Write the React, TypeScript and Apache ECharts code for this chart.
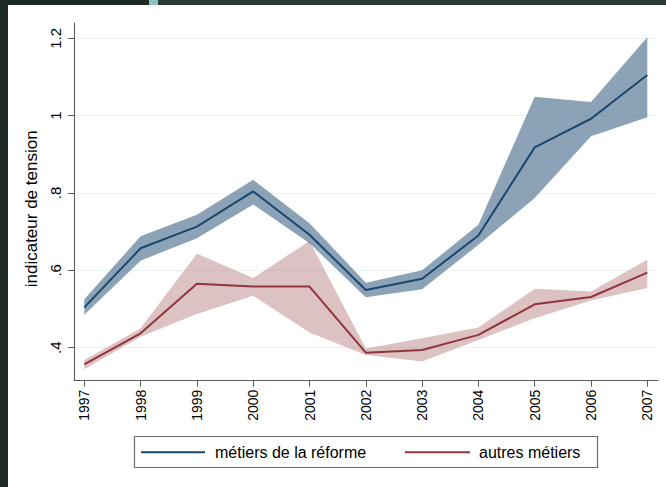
import React, { useEffect, useRef } from "react";
import * as echarts from "echarts";

const years = [1997, 1998, 1999, 2000, 2001, 2002, 2003, 2004, 2005, 2006, 2007];
const reformeMean = [0.504, 0.657, 0.713, 0.804, 0.692, 0.549, 0.578, 0.69, 0.918, 0.992, 1.105];
const reformeUpper = [0.525, 0.688, 0.744, 0.834, 0.722, 0.568, 0.6, 0.718, 1.049, 1.035, 1.203];
const reformeLower = [0.485, 0.625, 0.683, 0.77, 0.67, 0.53, 0.551, 0.666, 0.787, 0.947, 0.996];
const autresMean = [0.357, 0.437, 0.565, 0.558, 0.558, 0.387, 0.394, 0.433, 0.512, 0.531, 0.594];
const autresUpper = [0.368, 0.45, 0.643, 0.58, 0.676, 0.398, 0.424, 0.452, 0.552, 0.545, 0.627];
const autresLower = [0.344, 0.428, 0.487, 0.534, 0.439, 0.381, 0.364, 0.42, 0.476, 0.522, 0.554];
const yTickValues = [0.4, 0.6, 0.8, 1.0, 1.2];
const yTickLabels = [".4", ".6", ".8", "1", "1.2"];
const seriesNames = ["métiers de la réforme", "autres métiers"];
const yAxisTitle = "indicateur de tension";

const NAVY = "#1a476f";
const MAROON = "#90353b";
const FONT = "'Liberation Sans', Arial, sans-serif";

function bandSeries(name: string, lower: number[], upper: number[], color: string, opacity: number) {
  const data = years.map((y, i) => [y, lower[i], upper[i]]);
  return {
    name,
    type: "custom",
    silent: true,
    data,
    encode: { x: 0, y: [1, 2] },
    renderItem: (params: any, api: any) => {
      if (params.dataIndex !== 0) return null;
      const top = data.map((d) => api.coord([d[0], d[2]]));
      const bottom = data.map((d) => api.coord([d[0], d[1]])).reverse();
      return {
        type: "polygon",
        shape: { points: top.concat(bottom) },
        style: { fill: color, opacity },
      };
    },
  };
}

export default function App() {
  const ref = useRef<HTMLDivElement>(null);

  useEffect(() => {
    if (!ref.current) return;
    const chart = echarts.init(ref.current, undefined, { renderer: "svg" });
    const pairs = (vals: number[]) => years.map((y, i) => [y, vals[i]]);

    chart.setOption({
      animation: false,
      backgroundColor: "#ffffff",
      textStyle: { fontFamily: FONT },
      grid: { left: 66, right: 8, top: 18, bottom: 106.3, containLabel: false },
      xAxis: {
        type: "value",
        min: 1996.817,
        max: 2007.19,
        axisLine: { show: true, lineStyle: { color: "#5a5a5a", width: 1 } },
        axisTick: { show: true, length: 6, customValues: years, lineStyle: { color: "#5a5a5a" } },
        axisLabel: {
          customValues: years,
          rotate: 90,
          margin: 9,
          fontSize: 14,
          color: "#000",
          fontFamily: FONT,
          formatter: (v: number) => String(Math.round(v)),
        },
        splitLine: { show: false },
      },
      yAxis: {
        type: "value",
        min: 0.3145,
        max: 1.2396,
        name: yAxisTitle,
        nameLocation: "middle",
        nameGap: 32,
        nameRotate: 90,
        nameTextStyle: { fontSize: 17, color: "#000", fontFamily: FONT, padding: [0, 14, 0, 0] },
        axisLine: { show: true, lineStyle: { color: "#5a5a5a", width: 1 } },
        axisTick: { show: true, length: 6, customValues: yTickValues, lineStyle: { color: "#5a5a5a" } },
        axisLabel: {
          customValues: yTickValues,
          rotate: 90,
          margin: 11,
          fontSize: 15,
          color: "#000",
          fontFamily: FONT,
          formatter: (v: number) => {
            const i = yTickValues.findIndex((t) => Math.abs(t - v) < 1e-6);
            return i >= 0 ? yTickLabels[i] : "";
          },
        },
        splitLine: { show: true, lineStyle: { color: "#eaf2f3", width: 1 } },
      },
      series: [
        bandSeries("reforme-band", reformeLower, reformeUpper, NAVY, 0.5),
        bandSeries("autres-band", autresLower, autresUpper, MAROON, 0.3),
        {
          name: seriesNames[0],
          type: "line",
          data: pairs(reformeMean),
          symbol: "none",
          lineStyle: { color: NAVY, width: 2 },
          z: 3,
        },
        {
          name: seriesNames[1],
          type: "line",
          data: pairs(autresMean),
          symbol: "none",
          lineStyle: { color: MAROON, width: 2 },
          z: 3,
        },
      ],
      graphic: [
        {
          type: "rect",
          shape: { x: 126.5, y: 431.5, width: 463, height: 31 },
          style: { fill: "#fff", stroke: "#6e6e6e", lineWidth: 1.2 },
        },
        {
          type: "line",
          shape: { x1: 133, y1: 447.3, x2: 197, y2: 447.3 },
          style: { stroke: NAVY, lineWidth: 2 },
        },
        {
          type: "text",
          x: 207,
          y: 447.3,
          style: { text: seriesNames[0], fill: "#000", font: `16px ${FONT}`, verticalAlign: "middle", align: "left" },
        },
        {
          type: "line",
          shape: { x1: 397, y1: 447.3, x2: 462, y2: 447.3 },
          style: { stroke: MAROON, lineWidth: 2 },
        },
        {
          type: "text",
          x: 471,
          y: 447.3,
          style: { text: seriesNames[1], fill: "#000", font: `16px ${FONT}`, verticalAlign: "middle", align: "left" },
        },
      ],
    });
    return () => chart.dispose();
  }, []);

  return (
    <div style={{ position: "fixed", left: 0, top: 0, width: 666, height: 487, background: "#1e2a26", overflow: "hidden" }}>
      <div style={{ position: "absolute", left: 0, top: 0, width: 149, height: 5, background: "#1c2824" }} />
      <div style={{ position: "absolute", left: 149, top: 0, width: 9, height: 5, background: "#8fc1c1" }} />
      <div style={{ position: "absolute", left: 158, top: 0, width: 508, height: 5, background: "#2a3a36" }} />
      <div ref={ref} style={{ position: "absolute", left: 8, top: 5, width: 658, height: 482, background: "#fff" }} />
    </div>
  );
}
